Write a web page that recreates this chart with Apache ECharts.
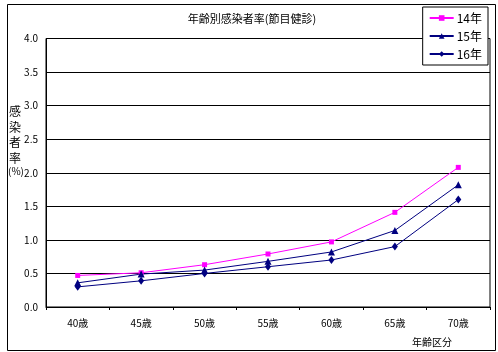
<!DOCTYPE html>
<html><head><meta charset="utf-8">
<script src="https://cdn.jsdelivr.net/npm/echarts@6/dist/echarts.min.js"></script>
<style>html,body{margin:0;padding:0;background:#fff}#c{width:498px;height:352px}</style>
</head><body><div id="c"></div>
<script>
const categories = ['40歳','45歳','50歳','55歳','60歳','65歳','70歳'];
const s14 = [0.47, 0.51, 0.63, 0.79, 0.97, 1.41, 2.08];
const s15 = [0.36, 0.49, 0.55, 0.68, 0.82, 1.14, 1.82];
const s16 = [0.30, 0.39, 0.50, 0.60, 0.70, 0.90, 1.60];
const seriesNames = ['14年','15年','16年'];
const yTicks = [0, 0.5, 1, 1.5, 2, 2.5, 3, 3.5, 4];

const FONT = '"Noto Sans CJK JP", "DejaVu Sans", sans-serif';
const chart = echarts.init(document.getElementById('c'), null, {renderer:'canvas'});
chart.setOption({
  animation:false,
  backgroundColor:'#fff',
  textStyle:{fontFamily:FONT},
  title:{text:'年齢別感染者率(節目健診)', left:247, top:8, textAlign:'center',
    textStyle:{fontSize:11, fontWeight:'normal', color:'#000', fontFamily:FONT}},
  grid:{left:46, right:8, top:38.5, bottom:45, show:true, borderColor:'#000', borderWidth:1, backgroundColor:'transparent'},
  legend:{orient:'vertical', right:10, top:7, width:64, padding:[5,6,5,6], itemGap:6,
    backgroundColor:'#fff', borderColor:'#000', borderWidth:1, borderRadius:0,
    itemWidth:24, itemHeight:7, data:seriesNames,
    textStyle:{fontSize:12, color:'#000', fontFamily:FONT, padding:[0,0,0,-2]}},
  xAxis:{type:'category', data:categories, boundaryGap:true,
    axisLine:{lineStyle:{color:'#000', width:1}},
    axisTick:{show:true, length:3, lineStyle:{color:'#000'}},
    axisLabel:{fontSize:10, color:'#000', margin:11, fontFamily:FONT},
    name:'年齢区分', nameLocation:'end', nameGap:0,
    nameTextStyle:{fontSize:10, color:'#000', align:'right', verticalAlign:'top', padding:[30,38,0,0], fontFamily:FONT}},
  yAxis:{type:'value', min:0, max:4, interval:0.5,
    axisLine:{show:true, lineStyle:{color:'#000'}},
    axisTick:{show:false},
    splitLine:{lineStyle:{color:'#000', width:1}},
    axisLabel:{fontSize:10, color:'#000', margin:8, formatter:v=>v.toFixed(1), fontFamily:FONT}},
  graphic:[
    {type:'rect', left:5, top:2, shape:{width:488, height:346}, style:{fill:null, stroke:'#000', lineWidth:1}, silent:true, z:-10},
    {type:'text', left:9, top:104, style:{text:'感\n染\n者\n率', font:'12px '+FONT, fill:'#000', lineHeight:15.5}},
    {type:'text', left:8, top:166, style:{text:'(%)', font:'10px '+FONT, fill:'#000'}}
  ],
  series:[
    {name:seriesNames[0], type:'line', data:s14, symbol:'rect', symbolSize:5,
      itemStyle:{color:'#FF00FF'}, lineStyle:{color:'#FF00FF', width:1}},
    {name:seriesNames[1], type:'line', data:s15, symbol:'triangle', symbolSize:7,
      itemStyle:{color:'#000080'}, lineStyle:{color:'#000080', width:1}},
    {name:seriesNames[2], type:'line', data:s16, symbol:'diamond', symbolSize:[6,8],
      itemStyle:{color:'#000080'}, lineStyle:{color:'#000080', width:1}}
  ]
});
</script></body></html>
